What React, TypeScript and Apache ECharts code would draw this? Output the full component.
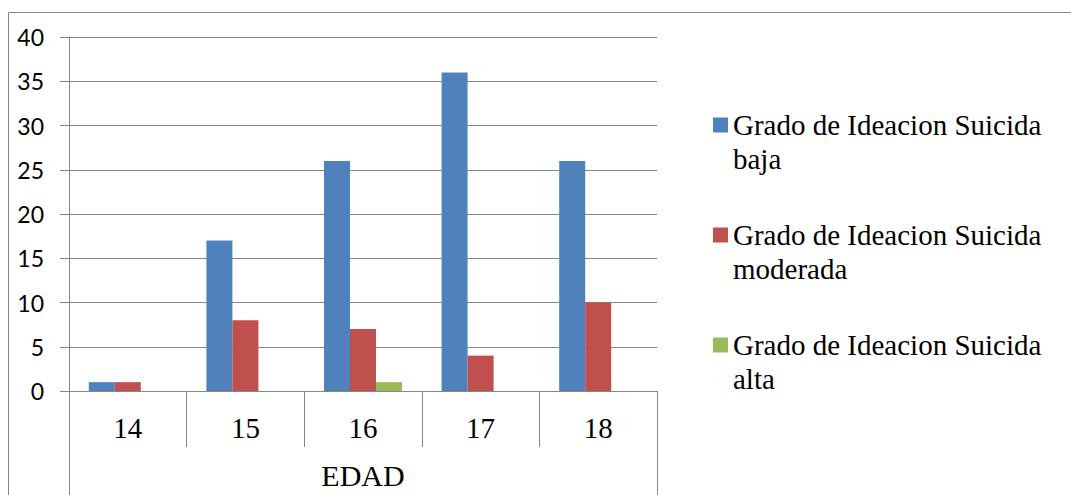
import React, { useEffect, useRef } from "react";
import * as echarts from "echarts";

// Ages (EDAD) on the x axis
const ages = ["14", "15", "16", "17", "18"];
const groupLabel = ["EDAD"];

// Counts per suicidal ideation level
const seriesNames = [
  "Grado de Ideacion Suicida baja",
  "Grado de Ideacion Suicida moderada",
  "Grado de Ideacion Suicida alta",
];
const bajaValues = [1, 17, 26, 36, 26];
const moderadaValues = [1, 8, 7, 4, 10];
const altaValues = [0, 0, 1, 0, 0];

const seriesColors = ["#4F81BD", "#C0504D", "#9BBB59"];
const axisGray = "#868686";

export default function App() {
  const ref = useRef<HTMLDivElement>(null);

  useEffect(() => {
    if (!ref.current) return;
    const chart = echarts.init(ref.current, undefined, { renderer: "svg" });
    const values = [bajaValues, moderadaValues, altaValues];

    chart.setOption({
      animation: false,
      backgroundColor: "#ffffff",
      graphic: [
        {
          type: "rect",
          z: -10,
          shape: { x: 8.5, y: 12.5, width: 1200, height: 700 },
          style: { fill: "none", stroke: axisGray, lineWidth: 1 },
          silent: true,
        },
      ],
      grid: {
        left: 69,
        top: 37,
        right: 414,
        bottom: 104,
        containLabel: false,
        outerBoundsMode: "none",
      },
      legend: {
        orient: "vertical",
        left: 713,
        top: 74,
        padding: 0,
        itemWidth: 15,
        itemHeight: 15,
        itemGap: 8,
        icon: "rect",
        data: seriesNames,
        // blank first line keeps the icon level with the first line of the wrapped name
        formatter: (name: string) => "\n" + name.replace(" Suicida ", " Suicida\n"),
        textStyle: {
          fontFamily: "Liberation Serif",
          fontSize: 29,
          color: "#000000",
          lineHeight: 34,
        },
      },
      xAxis: [
        {
          type: "category",
          gridIndex: 0,
          data: ages,
          position: "bottom",
          axisLine: { show: true, lineStyle: { color: axisGray, width: 1 } },
          axisTick: {
            show: true,
            interval: 0,
            length: 56,
            lineStyle: { color: axisGray, width: 1 },
          },
          axisLabel: {
            interval: 0,
            margin: 22,
            fontFamily: "Liberation Serif",
            fontSize: 29,
            lineHeight: 30,
            color: "#000000",
          },
          splitLine: { show: false },
        },
        {
          type: "category",
          gridIndex: 0,
          data: groupLabel,
          position: "bottom",
          axisLine: { show: false },
          axisTick: {
            show: true,
            interval: 0,
            length: 120,
            lineStyle: { color: axisGray, width: 1 },
          },
          axisLabel: {
            interval: 0,
            margin: 73,
            fontFamily: "Liberation Serif",
            fontSize: 30,
            lineHeight: 22,
            color: "#000000",
          },
          splitLine: { show: false },
        },
      ],
      yAxis: {
        type: "value",
        min: 0,
        max: 40,
        interval: 5,
        axisLine: { show: true, lineStyle: { color: axisGray, width: 1 } },
        axisTick: { show: true, length: 9, lineStyle: { color: axisGray, width: 1 } },
        axisLabel: {
          margin: 25,
          fontFamily: "Lato",
          fontSize: 23,
          color: "#000000",
        },
        splitLine: { show: true, lineStyle: { color: axisGray, width: 1 } },
      },
      series: seriesNames.map((name, i) => ({
        name,
        type: "bar",
        xAxisIndex: 0,
        yAxisIndex: 0,
        data: values[i],
        barWidth: 26,
        barGap: "0%",
        itemStyle: { color: seriesColors[i] },
      })),
    });

    return () => chart.dispose();
  }, []);

  return (
    <div
      ref={ref}
      style={{ position: "fixed", left: 0, top: 0, width: 1071, height: 495 }}
    />
  );
}
